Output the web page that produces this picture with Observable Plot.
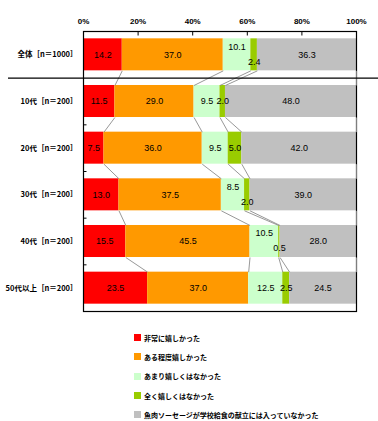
<!DOCTYPE html>
<html><head><meta charset="utf-8">
<script src="https://cdn.jsdelivr.net/npm/d3@7"></script>
<script src="https://cdn.jsdelivr.net/npm/@observablehq/plot@0.6"></script>
<style>
body{margin:0;background:#fff;font-family:"Noto Sans CJK JP",sans-serif}
#chart svg{display:block}
#legend{margin-left:134px;margin-top:10px}
.item{display:flex;align-items:center;height:19.3px;font-size:7px;font-weight:bold;color:#000}
.sw{width:7px;height:7px;margin-right:3px;flex:none}
</style></head><body><div id="chart"></div><div id="legend"></div><script>
const categories = ["全体［n＝1000］","10代［n＝200］","20代［n＝200］","30代［n＝200］","40代［n＝200］","50代以上［n＝200］"];
const seriesNames = ["非常に嬉しかった","ある程度嬉しかった","あまり嬉しくはなかった","全く嬉しくはなかった","魚肉ソーセージが学校給食の献立には入っていなかった"];
const colors = ["#ff0000","#ff9900","#ccffcc","#99cc00","#c0c0c0"];
const veryHappy     = [14.2, 11.5, 7.5, 13.0, 15.5, 23.5];
const somewhatHappy = [37.0, 29.0, 36.0, 37.5, 45.5, 37.0];
const notVeryHappy  = [10.1, 9.5, 9.5, 8.5, 10.5, 12.5];
const notHappyAtAll = [2.4, 2.0, 5.0, 2.0, 0.5, 2.5];
const notOnMenu     = [36.3, 48.0, 42.0, 39.0, 28.0, 24.5];
const xTicks = [0, 20, 40, 60, 80, 100];
// rows whose two small middle labels are staggered up/down
const staggerRows = [0, 3, 4];

const series = [veryHappy, somewhatHappy, notVeryHappy, notHappyAtAll, notOnMenu];
const table = [];
categories.forEach((c, row) => {
  let cum = 0;
  series.forEach((vals, s) => {
    const v = vals[row];
    table.push({row, cat: c, series: seriesNames[s], s, value: v, x1: cum, x2: cum + v});
    cum += v;
  });
});
const links = [];
for (let row = 0; row < categories.length - 1; row++) {
  const a = table.filter(d => d.row === row), b = table.filter(d => d.row === row + 1);
  a.forEach((d, s) => links.push({row, xa: d.x2, xb: b[s].x2}));
}
const h = 0.343;
const mid = d => (d.x1 + d.x2) / 2;
const isUp = d => staggerRows.includes(d.row) && d.s === 2;
const isDown = d => staggerRows.includes(d.row) && d.s === 3;
const textOpts = {x: mid, y: "row", fontSize: 9, fill: "#000", fontFamily: "Liberation Sans, Arial, sans-serif", text: d => d.value.toFixed(1)};

const chart = Plot.plot({
  width: 378, height: 318,
  marginLeft: 83, marginRight: 22, marginTop: 31, marginBottom: 7,
  x: {domain: [0, 100]},
  y: {domain: [5.5, -0.5]},
  color: {domain: seriesNames, range: colors},
  style: {fontFamily: "Noto Sans CJK JP, sans-serif", color: "#000", background: "#fff"},
  marks: [
    Plot.rectX(table, {x1: "x1", x2: "x2", y1: d => d.row - h, y2: d => d.row + h, fill: "series"}),
    Plot.frame({stroke: "#000", strokeWidth: 1.2}),
    Plot.link(links, {x1: "xa", x2: "xb", y1: d => d.row + h, y2: d => d.row + 1 - h, stroke: "#8c8c8c", strokeWidth: 0.9}),
    Plot.ruleY([0.5], {stroke: "#000", strokeWidth: 1.2, insetLeft: -75, insetRight: -22}),
    Plot.text(table.filter(d => !isUp(d) && !isDown(d)), textOpts),
    Plot.text(table.filter(isUp), {...textOpts, dy: -8}),
    Plot.text(table.filter(isDown), {...textOpts, dy: 7}),
    Plot.axisX({anchor: "top", ticks: xTicks, tickSize: 0, tickPadding: 8, tickFormat: d => d + "%", fontSize: 8, fontWeight: "bold", fontFamily: "Liberation Sans, Arial, sans-serif", label: null}),
    Plot.axisX({anchor: "top", ticks: xTicks.slice(1, -1), tickSize: -3.5, tickFormat: () => "", label: null}),
    Plot.axisY({ticks: categories.map((c, i) => i), tickSize: 0, tickPadding: 6, tickFormat: i => categories[i], fontSize: 7.5, fontWeight: "bold", label: null}),
    Plot.axisY({ticks: [1.5, 2.5, 3.5, 4.5], tickSize: -3.5, tickFormat: () => "", label: null})
  ]
});
document.getElementById("chart").appendChild(chart);
const legend = document.getElementById("legend");
seriesNames.forEach((n, i) => {
  const it = document.createElement("div");
  it.className = "item";
  it.innerHTML = `<span class="sw" style="background:${colors[i]}"></span><span>${n}</span>`;
  legend.appendChild(it);
});
</script></body></html>
